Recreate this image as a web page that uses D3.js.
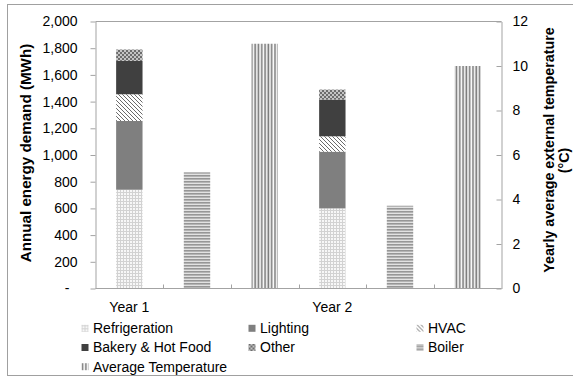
<!DOCTYPE html>
<html>
<head>
<meta charset="utf-8">
<script src="https://cdn.jsdelivr.net/npm/d3@7"></script>
<style>
  html, body { margin: 0; padding: 0; background: #fff; }
  svg { display: block; font-family: "Liberation Sans", Arial, sans-serif; }
</style>
</head>
<body>
<svg id="chart" width="573" height="376"></svg>
<script>
// ---- data ----
const categories = ["Year 1", "Year 2"];
const stackKeys = ["Refrigeration", "Lighting", "HVAC", "Bakery & Hot Food", "Other"];
const refrigeration = [740, 600];
const lighting = [515, 425];
const hvac = [200, 115];
const bakery = [250, 275];
const other = [85, 75];
const boiler = [870, 620];
const avgTemperature = [11.0, 10.0];
const leftTicks = [0, 200, 400, 600, 800, 1000, 1200, 1400, 1600, 1800, 2000];
const rightTicks = [0, 2, 4, 6, 8, 10, 12];
const legendLabels = ["Refrigeration", "Lighting", "HVAC", "Bakery & Hot Food", "Other", "Boiler", "Average Temperature"];
const leftTitle = "Annual energy demand (MWh)";
const rightTitle = ["Yearly average external temperature", "(°C)"];

// ---- layout ----
const svg = d3.select("#chart");
const L = 95.5, R = 501.5, T = 21.5, B = 288.5;
const axisColor = "#a3a3a3";
const font = 14;
const fontFamily = "'Liberation Sans', Arial, sans-serif";

// patterns
const defs = svg.append("defs");
function pat(id, w, h, build) {
  const p = defs.append("pattern").attr("id", id).attr("patternUnits", "userSpaceOnUse")
    .attr("width", w).attr("height", h);
  build(p);
}
pat("pRefrig", 3, 3, p => {
  p.append("rect").attr("width", 3).attr("height", 3).attr("fill", "#f7f7f7");
  p.append("path").attr("d", "M0,0.5H3M0.5,0V3").attr("stroke", "#d2d2d2").attr("stroke-width", 1);
});
pat("pHVAC", 4, 4, p => {
  p.append("rect").attr("width", 4).attr("height", 4).attr("fill", "#fff");
  p.append("path").attr("d", "M0,0L4,4M-1,3L1,5M3,-1L5,1").attr("stroke", "#6a6a6a").attr("stroke-width", 1);
});
pat("pOther", 4, 4, p => {
  p.append("rect").attr("width", 4).attr("height", 4).attr("fill", "#c4c4c4");
  p.append("rect").attr("width", 2).attr("height", 2).attr("fill", "#6c6c6c");
  p.append("rect").attr("x", 2).attr("y", 2).attr("width", 2).attr("height", 2).attr("fill", "#6c6c6c");
});
pat("pBoiler", 3, 3, p => {
  p.append("rect").attr("width", 3).attr("height", 3).attr("fill", "#e2e2e2");
  p.append("rect").attr("y", 1).attr("width", 3).attr("height", 1.6).attr("fill", "#969696");
});
pat("pTemp", 3.3, 3, p => {
  p.append("rect").attr("width", 3.3).attr("height", 3).attr("fill", "#fafafa");
  p.append("rect").attr("x", 0.3).attr("width", 1.6).attr("height", 3).attr("fill", "#7c7c7c");
});
const fills = {
  "Refrigeration": "url(#pRefrig)",
  "Lighting": "#7f7f7f",
  "HVAC": "url(#pHVAC)",
  "Bakery & Hot Food": "#404040",
  "Other": "url(#pOther)",
  "Boiler": "url(#pBoiler)",
  "Average Temperature": "url(#pTemp)"
};

// outer border
svg.append("rect").attr("x", 7.5).attr("y", 4.5).attr("width", 567).attr("height", 371)
  .attr("fill", "#fff").attr("stroke", "#a0a0a0").attr("stroke-width", 1);

// scales
const slots = [];
categories.forEach(c => { slots.push(c + "|stack", c + "|boiler", c + "|temp"); });
const x = d3.scaleBand().domain(slots).range([L, R]).padding(0);
const barW = x.bandwidth() * 0.39;
const bx = s => x(s) + (x.bandwidth() - barW) / 2;
const yL = d3.scaleLinear().domain([0, 2000]).range([B, T]);
const yR = d3.scaleLinear().domain([0, 12]).range([B, T]);

// plot frame
svg.append("path").attr("d", `M${L},${T}H${R}`).attr("stroke", axisColor).attr("fill", "none");

// stacked bars
const rows = categories.map((c, i) => ({
  cat: c, "Refrigeration": refrigeration[i], "Lighting": lighting[i], "HVAC": hvac[i],
  "Bakery & Hot Food": bakery[i], "Other": other[i]
}));
const stacked = d3.stack().keys(stackKeys)(rows);
stacked.forEach(layer => {
  svg.append("g").selectAll("rect").data(layer).join("rect")
    .attr("x", d => bx(d.data.cat + "|stack"))
    .attr("width", barW)
    .attr("y", d => yL(d[1]))
    .attr("height", d => yL(d[0]) - yL(d[1]))
    .attr("fill", fills[layer.key]);
});
// boiler bars
svg.append("g").selectAll("rect").data(categories).join("rect")
  .attr("x", c => bx(c + "|boiler")).attr("width", barW)
  .attr("y", (c, i) => yL(boiler[i])).attr("height", (c, i) => yL(0) - yL(boiler[i]))
  .attr("fill", fills["Boiler"]);
// temperature bars (secondary axis)
svg.append("g").selectAll("rect").data(categories).join("rect")
  .attr("x", c => bx(c + "|temp")).attr("width", barW)
  .attr("y", (c, i) => yR(avgTemperature[i])).attr("height", (c, i) => yR(0) - yR(avgTemperature[i]))
  .attr("fill", fills["Average Temperature"]);

// left axis
const gl = svg.append("g").attr("transform", `translate(${L},0)`)
  .call(d3.axisLeft(yL).tickValues(leftTicks).tickSize(5).tickSizeOuter(0).tickPadding(13)
    .tickFormat(d => d === 0 ? "-" : d3.format(",")(d)));
gl.selectAll("text").filter(d => d === 0).attr("text-anchor", "middle").attr("x", -28.5);

// right axis
const gr = svg.append("g").attr("transform", `translate(${R},0)`)
  .call(d3.axisRight(yR).tickValues(rightTicks).tickSize(-5).tickSizeOuter(0).tickPadding(11));

[gl, gr].forEach(g => {
  g.attr("font-family", fontFamily);
  g.select(".domain").attr("stroke", axisColor);
  g.selectAll(".tick line").attr("stroke", axisColor);
  g.selectAll("text").attr("font-size", font).attr("fill", "#000");
});

// bottom axis line and boundary ticks
svg.append("path").attr("d", `M${L},${B}H${R}`).attr("stroke", axisColor).attr("fill", "none");
svg.append("g").selectAll("line").data(slots.slice(1)).join("line")
  .attr("x1", s => Math.round(x(s)) + 0.5).attr("x2", s => Math.round(x(s)) + 0.5)
  .attr("y1", B).attr("y2", B - 4).attr("stroke", axisColor);

// category labels (centred under the stacked bars)
svg.append("g").selectAll("text").data(categories).join("text")
  .attr("x", c => x(c + "|stack") + x.bandwidth() / 2)
  .attr("y", 307).attr("dy", "0.35em")
  .attr("text-anchor", "middle").attr("font-size", font).text(c => c);

// axis titles
svg.append("text").attr("transform", "translate(25.5,153) rotate(-90)")
  .attr("text-anchor", "middle").attr("dy", "0.35em")
  .attr("font-size", 15.2).attr("font-weight", "bold").text(leftTitle);
svg.append("text").attr("transform", "translate(548.5,150) rotate(-90)")
  .attr("text-anchor", "middle").attr("dy", "0.35em")
  .attr("font-size", 14.3).attr("font-weight", "bold").text(rightTitle[0]);
svg.append("text").attr("transform", "translate(563.5,160.5) rotate(-90)")
  .attr("text-anchor", "middle").attr("dy", "0.35em")
  .attr("font-size", 14.3).attr("font-weight", "bold").text(rightTitle[1]);

// legend
const colX = [81.5, 248.5, 416.5];
const rowY = [328.3, 347.5, 366.7];
const lg = svg.append("g").selectAll("g").data(legendLabels).join("g")
  .attr("transform", (d, i) => `translate(${colX[i % 3]},${rowY[Math.floor(i / 3)]})`);
lg.append("rect").attr("x", 0).attr("y", -3.5).attr("width", 7).attr("height", 7)
  .attr("fill", d => fills[d]);
lg.append("text").attr("x", 11.5).attr("dy", "0.35em").attr("font-size", font).text(d => d);
</script>
</body>
</html>
